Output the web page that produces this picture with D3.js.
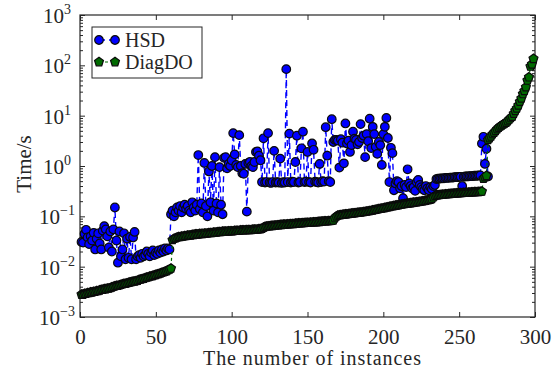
<!DOCTYPE html>
<html>
<head>
<meta charset="utf-8">
<script src="https://cdn.jsdelivr.net/npm/d3@7"></script>
<style>
  body { margin: 0; background: #fff; }
  svg { display: block; }
  text { font-family: "Liberation Serif", "Times New Roman", serif; fill: #262626; }
</style>
</head>
<body>
<svg id="chart" width="556" height="374"></svg>
<script>
// Solving time (s) per instance, instance number = position + 1
const hsdTime = [
  0.031,0.030,0.045,0.054,0.038,0.028,0.040,0.033,0.047,0.022,0.036,0.046,0.029,0.022,0.052,0.064,0.055,0.040,0.024,0.050,
  0.020,0.055,0.150,0.033,0.012,0.050,0.016,0.022,0.046,0.014,0.036,0.015,0.039,0.014,0.038,0.049,0.014,
  0.016,0.017,0.015,0.018,0.016,0.017,0.020,0.018,0.016,0.019,0.021,0.017,0.019,0.018,0.021,0.019,0.022,0.020,0.023,0.021,
  0.023,0.022,
  0.11,0.13,0.10,0.12,0.15,0.13,0.16,0.12,0.15,0.17,0.14,0.16,0.13,0.12,0.19,0.15,0.13,0.17,1.65,0.14,
  0.18,0.12,1.15,0.16,0.10,0.78,0.19,1.00,0.13,1.50,0.18,0.12,0.95,0.17,0.11,1.45,
  1.50,0.90,1.10,1.00,1.30,4.50,1.70,1.05,0.95,4.10,1.00,0.72,0.70,1.10,0.124,1.15,1.20,1.00,0.95,1.20,
  1.90,1.95,1.60,1.30,0.48,
  3.55,0.47,0.48,4.5,0.47,0.46,0.48,2.0,0.47,0.48,0.47,1.4,0.46,0.48,0.47,84,0.48,4.4,0.47,0.49,
  0.48,1.2,4.0,0.47,0.48,2.25,4.8,0.48,0.49,1.9,0.48,0.47,2.8,2.1,0.49,0.48,0.47,1.1,0.48,0.50,
  0.49,5.9,1.6,0.50,0.48,8.5,
  3.0,3.3,3.3,3.2,0.93,3.4,2.9,1.13,7.0,2.8,3.2,1.9,2.6,4.8,3.5,3.3,2.7,3.0,6.8,3.6,
  4.0,1.5,4.3,3.1,8.7,2.27,6.0,4.3,2.4,1.74,3.0,2.6,1.05,4.3,6.0,9.0,3.6,0.48,
  2.3,1.8,0.33,0.45,0.50,0.48,0.36,0.40,0.23,0.42,0.38,0.86,0.45,0.40,0.36,0.38,0.32,0.48,0.53,0.42,
  0.38,0.35,0.33,0.40,0.36,0.33,0.38,0.35,0.40,0.42,
  0.55,0.56,0.56,0.57,0.57,0.57,0.58,0.58,0.58,0.59,0.59,0.59,0.60,0.60,0.60,0.61,0.61,0.40,0.61,0.62,
  0.62,0.62,0.63,0.63,0.63,0.64,0.64,0.64,0.65,0.65,2.8,3.8,1.1,2.2,0.62
];

const diagdoTime = [
  0.0028,0.0028,0.0029,0.0029,0.0030,0.0030,0.0031,0.0031,0.0032,0.0032,0.0033,0.0033,0.0034,0.0035,0.0035,
  0.0036,0.0036,0.0037,0.0037,0.0038,0.0039,0.0040,0.0041,0.0042,0.0042,0.0043,0.0044,0.0045,0.0046,0.0046,
  0.0047,0.0048,0.0049,0.0050,0.0051,0.0051,0.0052,0.0053,0.0055,0.0056,0.0057,0.0058,0.0060,0.0061,0.0062,
  0.0064,0.0065,0.0066,0.0068,0.0069,0.0071,0.0072,0.0074,0.0076,0.0078,0.0080,0.0082,0.0085,0.0088,0.0092,
  0.034,0.036,0.037,0.038,0.039,0.039,0.040,0.040,0.041,0.041,0.042,0.042,0.042,0.043,0.043,
  0.044,0.044,0.044,0.045,0.045,0.045,0.046,0.046,0.046,0.047,0.047,0.047,0.048,0.048,0.048,
  0.049,0.049,0.049,0.050,0.050,0.050,0.050,0.051,0.051,0.051,0.051,0.052,0.052,0.052,0.052,
  0.053,0.053,0.053,0.053,0.054,0.054,0.054,0.054,0.055,0.055,0.055,0.055,0.056,0.056,0.057,
  0.060,0.062,0.063,0.064,0.064,0.065,0.065,0.066,0.066,0.067,0.067,0.068,0.068,0.069,0.069,0.069,
  0.070,0.070,0.071,0.071,0.071,0.072,0.072,0.073,0.073,0.073,0.074,0.074,0.075,0.075,0.075,0.076,
  0.076,0.077,0.077,0.077,0.078,0.078,0.079,0.079,0.080,0.080,0.080,0.081,0.081,0.082,0.083,
  0.092,0.100,0.104,0.106,0.107,0.108,0.109,0.110,0.111,0.112,0.113,0.114,0.115,0.116,0.117,0.118,
  0.119,0.120,0.121,0.123,0.124,0.125,0.127,0.128,0.130,0.132,0.134,0.136,0.138,0.140,0.142,0.144,
  0.146,0.148,0.150,0.152,0.155,0.158,0.160,0.162,0.164,0.166,0.168,0.170,0.172,0.174,0.176,0.178,
  0.180,0.182,0.184,0.186,0.188,0.190,0.192,0.194,0.196,0.198,0.200,0.203,0.206,0.209,0.212,0.216,0.222,
  0.240,0.255,0.262,0.265,0.267,0.269,0.271,0.273,0.275,0.277,0.279,0.281,0.283,0.284,0.286,0.287,0.289,
  0.290,0.292,0.293,0.295,0.296,0.297,0.299,0.300,0.301,0.303,0.304,0.305,0.307,0.308,0.310,0.312,
  0.56,0.60,0.64,
  3.3,3.6,3.9,4.3,4.6,5.0,5.4,5.8,6.1,6.4,6.7,7.0,7.3,7.8,8.4,9.0,9.6,11,12.5,14,
  16,19,22,27,31,37,50,58,95,105,135
];

const seriesNames = ["HSD", "DiagDO"];
const xTicks = [0, 50, 100, 150, 200, 250, 300];
const yExponents = [-3, -2, -1, 0, 1, 2, 3];
const xTitle = "The number of instances";
const yTitle = "Time/s";

const svg = d3.select("#chart");
const plot = { left: 80, right: 535, top: 15, bottom: 317 };
const axisColor = "#262626";

const x = d3.scaleLinear().domain([0, 300]).range([plot.left, plot.right]);
const y = d3.scaleLog().domain([1e-3, 1e3]).range([plot.bottom, plot.top]);

const majorY = yExponents.map(e => Math.pow(10, e));
const minorY = [];
yExponents.slice(0, -1).forEach(e => {
  for (let k = 2; k <= 9; k++) minorY.push(k * Math.pow(10, e));
});

// inward-pointing ticks on all four sides
function styleAxis(g) {
  g.select(".domain").remove();
  g.selectAll(".tick line").attr("stroke", axisColor).attr("stroke-width", 1);
}
svg.append("g").attr("transform", `translate(0,${plot.bottom})`)
  .call(d3.axisBottom(x).tickValues(xTicks).tickSizeInner(-5).tickSizeOuter(0).tickPadding(12))
  .call(styleAxis)
  .call(g => g.selectAll(".tick text").attr("font-size", 21).attr("fill", axisColor)
    .attr("font-family", "Liberation Serif, Times New Roman, serif"));
svg.append("g").attr("transform", `translate(0,${plot.top})`)
  .call(d3.axisTop(x).tickValues(xTicks).tickSizeInner(-5).tickSizeOuter(0).tickFormat(""))
  .call(styleAxis);
svg.append("g").attr("transform", `translate(${plot.left},0)`)
  .call(d3.axisLeft(y).tickValues(majorY).tickSizeInner(-5).tickSizeOuter(0).tickFormat(""))
  .call(styleAxis);
svg.append("g").attr("transform", `translate(${plot.left},0)`)
  .call(d3.axisLeft(y).tickValues(minorY).tickSizeInner(-3).tickSizeOuter(0).tickFormat(""))
  .call(styleAxis);
svg.append("g").attr("transform", `translate(${plot.right},0)`)
  .call(d3.axisRight(y).tickValues(majorY).tickSizeInner(-5).tickSizeOuter(0).tickFormat(""))
  .call(styleAxis);
svg.append("g").attr("transform", `translate(${plot.right},0)`)
  .call(d3.axisRight(y).tickValues(minorY).tickSizeInner(-3).tickSizeOuter(0).tickFormat(""))
  .call(styleAxis);

// power-of-ten labels
const yLab = svg.append("g");
yExponents.forEach(e => {
  const t = yLab.append("text")
    .attr("x", 57).attr("y", y(Math.pow(10, e)) + 8)
    .attr("text-anchor", "middle").attr("font-size", 21);
  t.append("tspan").text("10");
  t.append("tspan").attr("font-size", 14).attr("dy", -9)
    .text(e < 0 ? "\u2212" + Math.abs(e) : String(e));
});

// frame
svg.append("rect")
  .attr("x", plot.left).attr("y", plot.top)
  .attr("width", plot.right - plot.left).attr("height", plot.bottom - plot.top)
  .attr("fill", "none").attr("stroke", axisColor).attr("stroke-width", 1.2);

// axis titles
svg.append("text").attr("x", 312).attr("y", 365)
  .attr("text-anchor", "middle").attr("font-size", 20)
  .attr("textLength", 218).attr("lengthAdjust", "spacing").text(xTitle);
svg.append("text").attr("transform", "translate(31,164) rotate(-90)")
  .attr("text-anchor", "middle").attr("font-size", 21).text(yTitle);

// pentagon marker for DiagDO
const symbolPentagon = {
  draw(ctx, size) {
    const r = Math.sqrt(size / (2.5 * Math.sin(2 * Math.PI / 5)));
    for (let k = 0; k < 5; k++) {
      const a = -Math.PI / 2 + k * 2 * Math.PI / 5;
      const px = r * Math.cos(a), py = r * Math.sin(a);
      if (k === 0) ctx.moveTo(px, py); else ctx.lineTo(px, py);
    }
    ctx.closePath();
  }
};

const styles = {
  HSD: { data: hsdTime, color: "#0000ff", dash: "6,4", width: 1.4,
         symbol: d3.symbol().type(d3.symbolCircle).size(58) },
  DiagDO: { data: diagdoTime, color: "#006a00", dash: "3,3", width: 1.2,
            symbol: d3.symbol().type(symbolPentagon).size(52) }
};

const line = d3.line().x((d, i) => x(i + 1)).y(d => y(d));

seriesNames.forEach(name => {
  const s = styles[name];
  const g = svg.append("g");
  g.append("path").datum(s.data)
    .attr("d", line)
    .attr("fill", "none").attr("stroke", s.color)
    .attr("stroke-width", s.width).attr("stroke-dasharray", s.dash);
  g.selectAll("path.mk").data(s.data).join("path")
    .attr("class", "mk")
    .attr("transform", (d, i) => `translate(${x(i + 1)},${y(d)})`)
    .attr("d", s.symbol())
    .attr("fill", s.color).attr("stroke", "#0a0a0a").attr("stroke-width", 1.2);
});

// legend
const legend = svg.append("g");
legend.append("rect").attr("x", 92).attr("y", 27).attr("width", 110).attr("height", 51)
  .attr("fill", "#fff").attr("stroke", axisColor).attr("stroke-width", 1);
seriesNames.forEach((name, i) => {
  const s = styles[name];
  const cy = 40 + i * 22;
  legend.append("line").attr("x1", 99).attr("x2", 115).attr("y1", cy).attr("y2", cy)
    .attr("stroke", s.color).attr("stroke-width", s.width).attr("stroke-dasharray", s.dash);
  [99, 115].forEach(mx => {
    legend.append("path").attr("transform", `translate(${mx},${cy})`)
      .attr("d", s.symbol()).attr("fill", s.color).attr("stroke", "#0a0a0a").attr("stroke-width", 1.2);
  });
  legend.append("text").attr("x", 125).attr("y", cy + 7)
    .attr("font-size", 20).text(name);
});
</script>
</body>
</html>
